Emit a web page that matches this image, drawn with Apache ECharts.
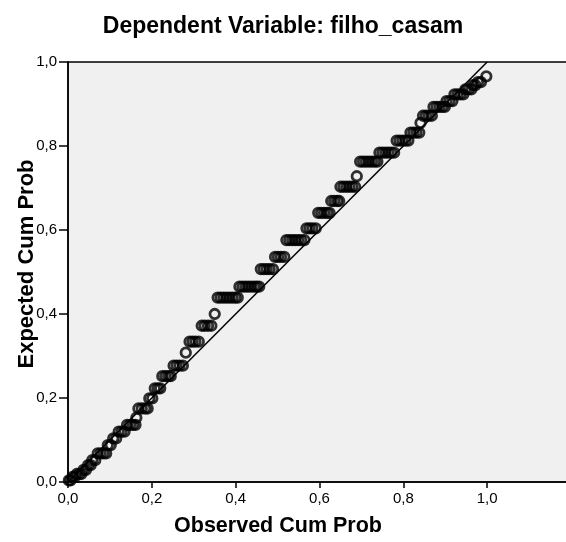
<!DOCTYPE html>
<html><head><meta charset="utf-8">
<script src="https://cdn.jsdelivr.net/npm/echarts@6/dist/echarts.min.js"></script>
<style>html,body{margin:0;padding:0;background:#fff}#c{width:566px;height:542px}</style>
</head><body><div id="c"></div>
<script>
const chartTitle = 'Dependent Variable: filho_casam';
const xAxisTitle = 'Observed Cum Prob';
const yAxisTitle = 'Expected Cum Prob';
const xTickValues = [0, 0.2, 0.4, 0.6, 0.8, 1.0];
const yTickValues = [0, 0.2, 0.4, 0.6, 0.8, 1.0];

const observedCumProb = [
  0.002, 0.006,
  0.011, 0.016,
  0.021, 0.027, 0.032,
  0.037, 0.043,
  0.048, 0.054,
  0.058, 0.065,
  0.071, 0.078, 0.085, 0.091,
  0.095, 0.102,
  0.108, 0.115,
  0.121, 0.128, 0.135,
  0.141, 0.148, 0.155, 0.161,
  0.163,
  0.168, 0.176, 0.184, 0.190,
  0.194, 0.201,
  0.207, 0.214, 0.220,
  0.225, 0.232, 0.239, 0.245,
  0.252, 0.259, 0.266, 0.274,
  0.281,
  0.290, 0.297, 0.304, 0.312,
  0.319, 0.326, 0.334, 0.342,
  0.350,
  0.357, 0.364, 0.371, 0.378, 0.385, 0.392, 0.399, 0.405,
  0.409, 0.416, 0.423, 0.430, 0.437, 0.444, 0.450, 0.456,
  0.460, 0.467, 0.474, 0.481, 0.489,
  0.494, 0.501, 0.508, 0.516,
  0.521, 0.528, 0.535, 0.542, 0.549, 0.556, 0.564,
  0.569, 0.576, 0.583, 0.591,
  0.597, 0.604, 0.611, 0.618, 0.624,
  0.628, 0.635, 0.642, 0.647,
  0.650, 0.657, 0.664, 0.671, 0.678, 0.685,
  0.689,
  0.697, 0.704, 0.711, 0.718, 0.725, 0.732, 0.738,
  0.743, 0.750, 0.757, 0.764, 0.771, 0.778,
  0.784, 0.791, 0.798, 0.805, 0.812,
  0.817, 0.824, 0.831, 0.838,
  0.841,
  0.847, 0.854, 0.861, 0.868,
  0.872, 0.879, 0.886, 0.893, 0.899,
  0.903, 0.910, 0.917,
  0.922, 0.929, 0.936, 0.943,
  0.948, 0.955, 0.962,
  0.966, 0.972,
  0.978, 0.985,
  0.998
];

const expectedCumProb = [
  0.004, 0.004,
  0.012, 0.012,
  0.019, 0.019, 0.019,
  0.029, 0.029,
  0.040, 0.040,
  0.052, 0.052,
  0.068, 0.068, 0.068, 0.068,
  0.088, 0.088,
  0.104, 0.104,
  0.120, 0.120, 0.120,
  0.136, 0.136, 0.136, 0.136,
  0.153,
  0.175, 0.175, 0.175, 0.175,
  0.199, 0.199,
  0.223, 0.223, 0.223,
  0.252, 0.252, 0.252, 0.252,
  0.277, 0.277, 0.277, 0.277,
  0.308,
  0.334, 0.334, 0.334, 0.334,
  0.372, 0.372, 0.372, 0.372,
  0.400,
  0.439, 0.439, 0.439, 0.439, 0.439, 0.439, 0.439, 0.439,
  0.465, 0.465, 0.465, 0.465, 0.465, 0.465, 0.465, 0.465,
  0.507, 0.507, 0.507, 0.507, 0.507,
  0.536, 0.536, 0.536, 0.536,
  0.576, 0.576, 0.576, 0.576, 0.576, 0.576, 0.576,
  0.604, 0.604, 0.604, 0.604,
  0.641, 0.641, 0.641, 0.641, 0.641,
  0.669, 0.669, 0.669, 0.669,
  0.703, 0.703, 0.703, 0.703, 0.703, 0.703,
  0.728,
  0.763, 0.763, 0.763, 0.763, 0.763, 0.763, 0.763,
  0.784, 0.784, 0.784, 0.784, 0.784, 0.784,
  0.813, 0.813, 0.813, 0.813, 0.813,
  0.832, 0.832, 0.832, 0.832,
  0.855,
  0.872, 0.872, 0.872, 0.872,
  0.893, 0.893, 0.893, 0.893, 0.893,
  0.907, 0.907, 0.907,
  0.923, 0.923, 0.923, 0.923,
  0.935, 0.935, 0.935,
  0.945, 0.945,
  0.952, 0.952,
  0.966
];

const referenceLine = [[0, 0], [1, 1]];

const FONT = '"Liberation Sans", Arial, sans-serif';
const fmt = v => (xTickValues.some(t => Math.abs(t - v) < 1e-9) ? v.toFixed(1).replace('.', ',') : '');

const chart = echarts.init(document.getElementById('c'), null, {renderer: 'canvas'});
chart.setOption({
  animation: false,
  backgroundColor: '#ffffff',
  title: {
    text: chartTitle,
    left: 'center',
    top: 10,
    textStyle: {fontFamily: FONT, fontSize: 23, fontWeight: 'bold', color: '#000'}
  },
  graphic: [
    {type: 'text', x: 278, y: 526, style: {text: xAxisTitle, font: 'bold 21.5px ' + FONT, fill: '#000', align: 'center', verticalAlign: 'middle'}},
    {type: 'text', x: 27, y: 264, rotation: Math.PI / 2, style: {text: yAxisTitle, font: 'bold 22px ' + FONT, fill: '#000', align: 'center', verticalAlign: 'middle'}}
  ],
  grid: {
    left: 68, top: 62, width: 503, height: 420,
    outerBoundsMode: 'none',
    containLabel: false,
    show: true, backgroundColor: '#f0f0f0', borderColor: '#000', borderWidth: 1.5
  },
  xAxis: {
    type: 'value', min: 0, max: 1.2, interval: 0.2,
    splitLine: {show: false},
    axisLine: {show: true, lineStyle: {color: '#000', width: 1.5}},
    axisTick: {show: true, length: 6, lineStyle: {color: '#000', width: 1.5}},
    axisLabel: {margin: 9, color: '#000', fontFamily: FONT, fontSize: 15, formatter: v => (v > 1.05 ? '' : fmt(v))}
  },
  yAxis: {
    type: 'value', min: 0, max: 1, interval: 0.2,
    splitLine: {show: false},
    axisLine: {show: true, lineStyle: {color: '#000', width: 1.5}},
    axisTick: {show: true, length: 9, lineStyle: {color: '#000', width: 1.5}},
    axisLabel: {margin: 11, color: '#000', fontFamily: FONT, fontSize: 15, formatter: v => v.toFixed(1).replace('.', ',')}
  },
  series: [
    {
      type: 'line', data: referenceLine, showSymbol: false, silent: true, z: 2,
      lineStyle: {color: '#000', width: 1.5}
    },
    {
      type: 'scatter', z: 3,
      data: observedCumProb.map((x, i) => [x, expectedCumProb[i]]),
      symbol: 'circle', symbolSize: 9.5,
      itemStyle: {color: 'rgba(0,0,0,0)', borderColor: '#000', borderWidth: 2.8}
    }
  ]
});
</script>
</body></html>
